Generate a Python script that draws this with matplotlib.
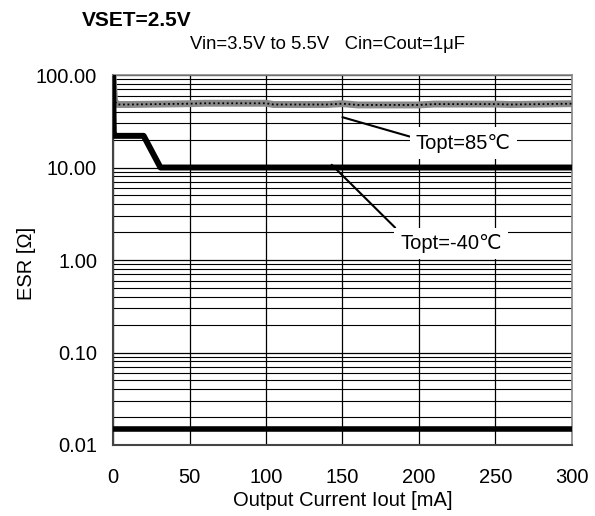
import numpy as np
import matplotlib
matplotlib.use("Agg")
import matplotlib.pyplot as plt
from matplotlib.ticker import FixedLocator, LogLocator, NullFormatter

plt.rcParams["font.family"] = ["Liberation Sans", "DejaVu Sans"]

# ESR stability boundary curves
iout_85 = [0, 0.5, 1, 3, 10, 30, 50, 60, 100, 105, 140, 150, 160, 200, 210, 250, 260, 300]
esr_85 = [100, 70, 52, 48, 48, 48.5, 49, 49.5, 49.5, 48, 48, 49, 47.5, 47.5, 48.5, 48.5, 48, 49]

iout_m40 = [0, 0.5, 1, 20, 31, 300]
esr_m40 = [100, 22, 22, 22, 10, 10]

iout_low = [0, 300]
esr_low = [0.015, 0.015]

x_ticks = [0, 50, 100, 150, 200, 250, 300]
y_ticks = [0.01, 0.1, 1, 10, 100]
y_labels = ["0.01", "0.10", "1.00", "10.00", "100.00"]

fig = plt.figure(figsize=(5.95, 5.16), dpi=100)
ax = fig.add_axes([0.190, 0.1376, 0.771, 0.717])
ax.set_yscale("log")
ax.set_xlim(0, 300)
ax.set_ylim(0.01, 100)

# grid: vertical every 50 mA, log minor grid on y
ax.xaxis.set_major_locator(FixedLocator(x_ticks))
ax.yaxis.set_major_locator(FixedLocator(y_ticks))
ax.yaxis.set_minor_locator(LogLocator(base=10, subs=np.arange(2, 10)))
ax.yaxis.set_minor_formatter(NullFormatter())
ax.set_yticklabels(y_labels)
ax.grid(True, which="major", color="black", lw=0.9)
ax.grid(True, which="minor", axis="y", color="black", lw=0.8)
ax.tick_params(which="both", length=0, labelsize=14.5)
ax.tick_params(axis="y", pad=11.5)
ax.tick_params(axis="x", pad=16.5)
for side in ("top", "right"):
    ax.spines[side].set_color("#888888")
    ax.spines[side].set_linewidth(1.2)
for side in ("left", "bottom"):
    ax.spines[side].set_color("#444444")
    ax.spines[side].set_linewidth(1.5)

# curves
ax.plot(iout_85, esr_85, color="#8a8a8a", lw=5, solid_capstyle="butt", zorder=3)
ax.plot(iout_85, esr_85, color="black", lw=1.3, ls=(0, (1, 1.5)), zorder=4)
ax.plot(iout_m40, esr_m40, color="black", lw=4.3, zorder=5)
ax.plot(iout_low, esr_low, color="black", lw=4, zorder=5)

# leader lines + labels
bbox = dict(boxstyle="square,pad=0.3", fc="white", ec="none")
ax.annotate("Topt=85℃", xy=(150, 35), xytext=(229, 18.4), fontsize=14.5,
            ha="center", va="center", bbox=bbox, zorder=6,
            arrowprops=dict(arrowstyle="-", color="black", lw=1.5,
                            shrinkA=0, shrinkB=0, relpos=(0, 0.75)))
ax.annotate("Topt=-40℃", xy=(143, 10.7), xytext=(221, 1.52), fontsize=14.5,
            ha="center", va="center", bbox=bbox, zorder=6,
            arrowprops=dict(arrowstyle="-", color="black", lw=1.5,
                            shrinkA=0, shrinkB=0, relpos=(0.02, 0.95)))

fig.text(0.576, 0.031, "Output Current Iout [mA]", fontsize=14.5,
         ha="center", va="center")
fig.text(0.045, 0.490, "ESR [Ω]", fontsize=14.5, rotation=90,
         ha="center", va="center")

fig.text(0.138, 0.961, "VSET=2.5V", fontsize=15, fontweight="bold",
         ha="left", va="center")
fig.text(0.319, 0.913, "Vin=3.5V to 5.5V   Cin=Cout=1μF", fontsize=13.3,
         ha="left", va="center")

fig.savefig("out.png", dpi=100, facecolor="white")
